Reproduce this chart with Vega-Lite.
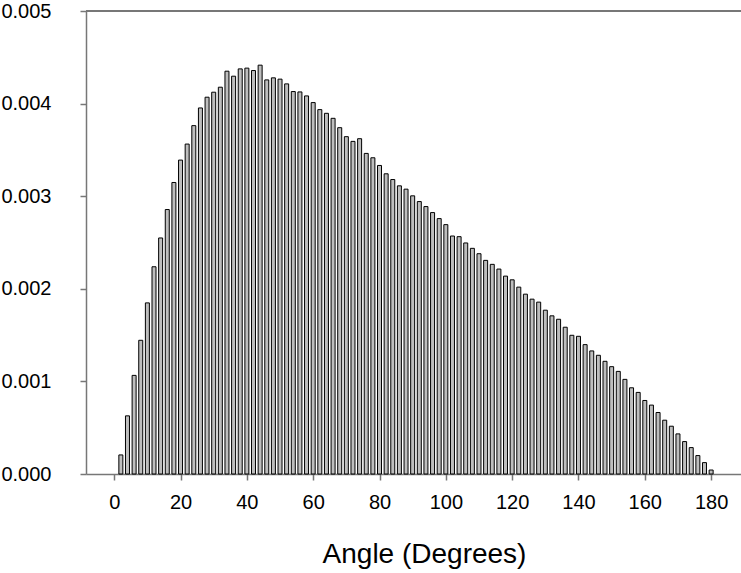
{
  "$schema": "https://vega.github.io/schema/vega-lite/v6.json",
  "width": 655,
  "height": 463,
  "autosize": {"type": "none"},
  "padding": {"left": 86, "top": 11, "right": 0, "bottom": 99},
  "background": "white",
  "config": {
    "view": {"stroke": null},
    "font": "Liberation Sans",
    "axis": {
      "domainColor": "#777777",
      "domainWidth": 1.5,
      "tickColor": "#777777",
      "tickWidth": 1.5,
      "tickSize": 6,
      "labelColor": "black",
      "titleColor": "black",
      "labelFont": "Liberation Sans",
      "titleFont": "Liberation Sans",
      "labelFontSize": 20,
      "titleFontSize": 28,
      "titleFontWeight": "normal",
      "grid": false
    }
  },
  "data": {
    "values": [
      {"angle": 2, "density": 0.000206},
      {"angle": 4, "density": 0.000628},
      {"angle": 6, "density": 0.001065},
      {"angle": 8, "density": 0.001444},
      {"angle": 10, "density": 0.001848},
      {"angle": 12, "density": 0.002238},
      {"angle": 14, "density": 0.002549},
      {"angle": 16, "density": 0.002856},
      {"angle": 18, "density": 0.003148},
      {"angle": 20, "density": 0.00339},
      {"angle": 22, "density": 0.003563},
      {"angle": 24, "density": 0.003762},
      {"angle": 26, "density": 0.003953},
      {"angle": 28, "density": 0.004069},
      {"angle": 30, "density": 0.004123},
      {"angle": 32, "density": 0.004177},
      {"angle": 34, "density": 0.00435},
      {"angle": 36, "density": 0.004296},
      {"angle": 38, "density": 0.004375},
      {"angle": 40, "density": 0.004383},
      {"angle": 42, "density": 0.004357},
      {"angle": 44, "density": 0.004415},
      {"angle": 46, "density": 0.004256},
      {"angle": 48, "density": 0.004278},
      {"angle": 50, "density": 0.004264},
      {"angle": 52, "density": 0.004213},
      {"angle": 54, "density": 0.00413},
      {"angle": 56, "density": 0.004126},
      {"angle": 58, "density": 0.004083},
      {"angle": 60, "density": 0.004011},
      {"angle": 62, "density": 0.003935},
      {"angle": 64, "density": 0.003895},
      {"angle": 66, "density": 0.003841},
      {"angle": 68, "density": 0.00374},
      {"angle": 70, "density": 0.003643},
      {"angle": 72, "density": 0.003592},
      {"angle": 74, "density": 0.003621},
      {"angle": 76, "density": 0.003462},
      {"angle": 78, "density": 0.003415},
      {"angle": 80, "density": 0.003332},
      {"angle": 82, "density": 0.003242},
      {"angle": 84, "density": 0.00318},
      {"angle": 86, "density": 0.003112},
      {"angle": 88, "density": 0.003076},
      {"angle": 90, "density": 0.003004},
      {"angle": 92, "density": 0.002942},
      {"angle": 94, "density": 0.002888},
      {"angle": 96, "density": 0.002823},
      {"angle": 98, "density": 0.002758},
      {"angle": 100, "density": 0.002693},
      {"angle": 102, "density": 0.00257},
      {"angle": 104, "density": 0.002563},
      {"angle": 106, "density": 0.002495},
      {"angle": 108, "density": 0.002437},
      {"angle": 110, "density": 0.002379},
      {"angle": 112, "density": 0.002307},
      {"angle": 114, "density": 0.002264},
      {"angle": 116, "density": 0.002213},
      {"angle": 118, "density": 0.002137},
      {"angle": 120, "density": 0.002097},
      {"angle": 122, "density": 0.002018},
      {"angle": 124, "density": 0.001942},
      {"angle": 126, "density": 0.001888},
      {"angle": 128, "density": 0.001856},
      {"angle": 130, "density": 0.001769},
      {"angle": 132, "density": 0.001708},
      {"angle": 134, "density": 0.001671},
      {"angle": 136, "density": 0.001585},
      {"angle": 138, "density": 0.001498},
      {"angle": 140, "density": 0.001487},
      {"angle": 142, "density": 0.001397},
      {"angle": 144, "density": 0.001329},
      {"angle": 146, "density": 0.001282},
      {"angle": 148, "density": 0.001217},
      {"angle": 150, "density": 0.001159},
      {"angle": 152, "density": 0.001108},
      {"angle": 154, "density": 0.001022},
      {"angle": 156, "density": 0.000931},
      {"angle": 158, "density": 0.000881},
      {"angle": 160, "density": 0.000794},
      {"angle": 162, "density": 0.000744},
      {"angle": 164, "density": 0.000664},
      {"angle": 166, "density": 0.000581},
      {"angle": 168, "density": 0.000516},
      {"angle": 170, "density": 0.000433},
      {"angle": 172, "density": 0.00035},
      {"angle": 174, "density": 0.000285},
      {"angle": 176, "density": 0.000199},
      {"angle": 178, "density": 0.000123},
      {"angle": 180, "density": 0.000043}
    ]
  },
  "layer": [
    {
      "mark": {"type": "bar", "width": 4, "fill": "#bebebe", "stroke": "black", "strokeWidth": 1},
      "encoding": {
        "x": {
          "field": "angle",
          "type": "quantitative",
          "scale": {"domain": [-7, 187.5], "nice": false, "zero": false},
          "axis": {
            "title": "Angle (Degrees)",
            "values": [0, 20, 40, 60, 80, 100, 120, 140, 160, 180],
            "labelPadding": 12,
            "titlePadding": 28,
            "titleX": 338
          }
        },
        "y": {
          "field": "density",
          "type": "quantitative",
          "scale": {"domain": [0, 0.005], "nice": false},
          "axis": {
            "title": null,
            "values": [0, 0.001, 0.002, 0.003, 0.004, 0.005],
            "format": ".3f",
            "labelPadding": 29
          }
        }
      }
    },
    {
      "mark": {"type": "rule", "color": "#777777", "strokeWidth": 1.5},
      "encoding": {"y": {"datum": 0.005}}
    }
  ]
}
